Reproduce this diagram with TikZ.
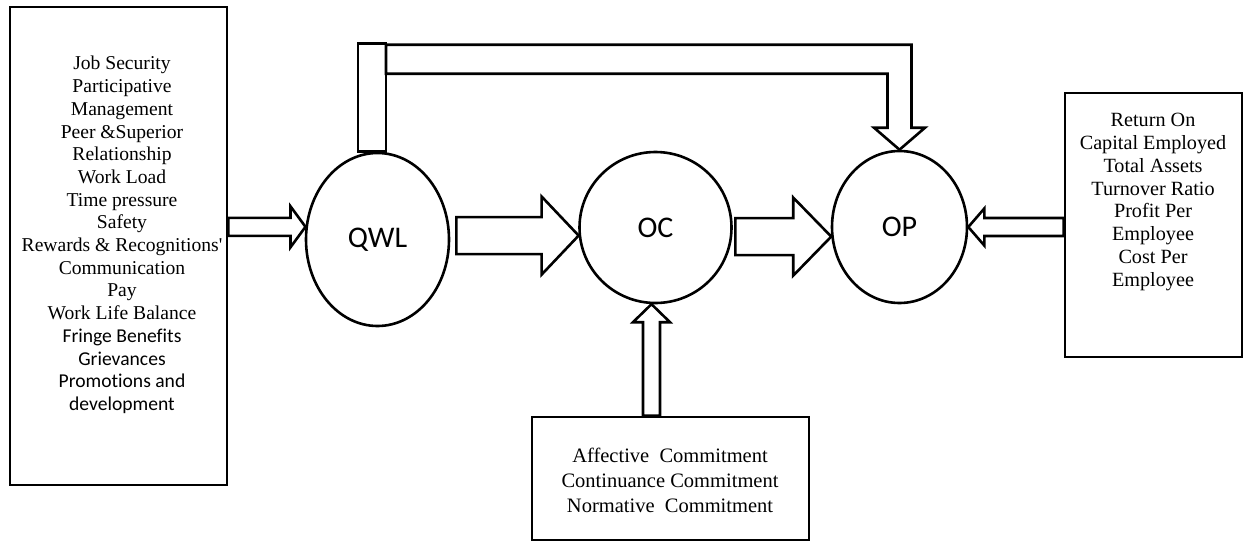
\documentclass[tikz,border=0pt]{standalone}
\usepackage{fontspec}
\setmainfont{Liberation Serif}
\newfontfamily\calibri[Ligatures=CommonOff]{Carlito}
\usetikzlibrary{shapes.geometric,calc}
\newcommand\harr[5]{\draw[blk] let \p1=(#1),\p2=(#2),\n1={sign(\x2-\x1)} in
 (\x1,{\y2+#3}) -- ({\x2-\n1*#5},{\y2+#3}) -- ({\x2-\n1*#5},{\y2+#4}) -- (\x2,\y2)
 -- ({\x2-\n1*#5},{\y2-#4}) -- ({\x2-\n1*#5},{\y2-#3}) -- (\x1,{\y2-#3}) -- cycle;}
\begin{document}
\begin{tikzpicture}[x=1pt,y=-1pt, line join=miter,
  frame/.style={draw, line width=2.8pt, inner sep=0pt},
  circ/.style={ellipse, draw, line width=2.6pt, inner sep=0pt, font=\calibri\fontsize{30}{36}\selectfont},
  txt/.style={align=center, inner sep=0pt, font=\fontsize{19.6}{22.7}\selectfont},
  blk/.style={draw, line width=2.6pt}]
\useasboundingbox (0,0) rectangle (1244,541);
% boxes
\node[frame, minimum width=217pt, minimum height=478pt] (factors) at (118.5,246) {};
\node[txt] (factorlist) at (122,235) {Job Security\\Participative\\Management\\Peer \&Superior\\Relationship\\Work Load\\Time pressure\\Safety\\Rewards \& Recognitions\textquotesingle\\Communication\\Pay\\Work Life Balance\\{\calibri Fringe Benefits}\\{\calibri Grievances}\\{\calibri Promotions and}\\{\calibri development}};
\node[frame, minimum width=177pt, minimum height=264pt] (roce) at (1153.5,225) {};
\node[txt, font=\fontsize{20.2}{22.8}\selectfont] (rocelist) at (1153,202) {Return On\\Capital Employed\\Total Assets\\Turnover Ratio\\Profit Per\\Employee\\Cost Per\\Employee};
\node[frame, minimum width=277pt, minimum height=123pt] (commit) at (670.5,478.5) {};
\node[txt, font=\fontsize{20.5}{25}\selectfont] (commitlist) at (670,480) {Affective\ \ Commitment\\Continuance Commitment\\Normative\ \ Commitment};
% ellipses
\node[circ, minimum width=143pt, minimum height=173pt] (qwl) at (377.5,239.5) {QWL};
\node[circ, minimum width=152pt, minimum height=151pt] (oc) at (655.5,227.5) {OC};
\node[circ, minimum width=135pt, minimum height=152pt] (op) at (899.5,227) {OP};
% horizontal block arrows
\harr{factors.east}{qwl.170}{9pt}{20.5pt}{15pt}
\harr{$(qwl.east)+(6,0)$}{oc.186}{18.5pt}{39pt}{37pt}
\harr{$(oc.east)+(2.5,0)$}{op.188}{18.5pt}{39pt}{38pt}
\harr{roce.west}{op.east}{9pt}{18.5pt}{16pt}
% up arrow from commitment box to OC
\draw[blk] let \p1=(commit.north), \p2=(oc.267) in
 ({\x2-8.5pt},\y1) -- ({\x2-8.5pt},{\y2-18pt}) -- ({\x2-18.5pt},{\y2-18pt}) -- (\x2,\y2)
 -- ({\x2+18.5pt},{\y2-18pt}) -- ({\x2+8.5pt},{\y2-18pt}) -- ({\x2+8.5pt},\y1) -- cycle;
% top connector QWL -> OP
\coordinate (barbase) at ($(qwl.north)+(-5.5,0)$);
\draw[blk] let \p1=(barbase) in ({\x1-14pt},\y1) rectangle ({\x1+14pt},{\y1+108pt});
\draw[blk] let \p1=(barbase), \p2=(op.north) in
 ({\x1+14pt},{\y1+107pt}) -- ({\x2+12pt},{\y1+107pt}) -- ({\x2+12pt},{\y2+22pt})
 -- ({\x2+25.5pt},{\y2+22pt}) -- (\x2,\y2) -- ({\x2-25.5pt},{\y2+22pt})
 -- ({\x2-12pt},{\y2+22pt}) -- ({\x2-12pt},{\y1+78pt}) -- ({\x1+14pt},{\y1+78pt}) -- cycle;
\end{tikzpicture}
\end{document}
